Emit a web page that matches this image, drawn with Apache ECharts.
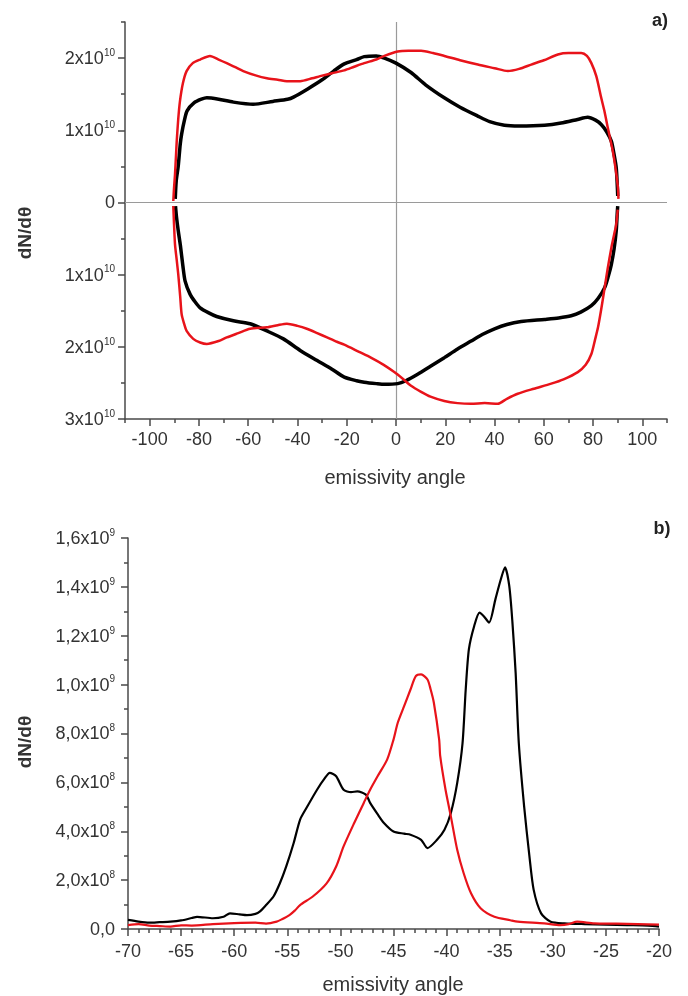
<!DOCTYPE html>
<html>
<head>
<meta charset="utf-8">
<script src="https://cdn.jsdelivr.net/npm/echarts@6/dist/echarts.min.js"></script>
<style>
  html, body { margin: 0; padding: 0; background: #fff; }
  #chart { width: 688px; height: 996px; }
</style>
</head>
<body>
<div id="chart"></div>
<script>
// panel a) values in units of 1e10, [angle, dN/dθ]; lower branches are negative
const blackUpperA = [
  [-89.6, 0.05], [-89.2, 0.3], [-88.4, 0.5], [-87.6, 0.8], [-87, 0.95], [-85.8, 1.15], [-84.8, 1.27],
  [-82, 1.38], [-79, 1.43], [-76.8, 1.45], [-72, 1.43], [-66, 1.39], [-58, 1.36], [-50, 1.4],
  [-44, 1.43], [-41.6, 1.46], [-36, 1.57], [-30, 1.7], [-25.3, 1.82], [-21, 1.92], [-16, 1.98],
  [-12.9, 2.02], [-8, 2.03], [-4.7, 2.0], [0, 1.93], [6.1, 1.8], [12, 1.63], [19.6, 1.45],
  [26, 1.32], [33, 1.2], [38, 1.12], [44, 1.07], [50, 1.06], [60.3, 1.07], [67, 1.1],
  [73.7, 1.15], [77.8, 1.18], [81, 1.14], [83.3, 1.08], [85.5, 0.98], [87.4, 0.85], [88.6, 0.65],
  [89.4, 0.48], [89.8, 0.25], [90, 0.09]
];
const redUpperA = [
  [-90.4, 0.02], [-90.1, 0.2], [-89.7, 0.39], [-89.3, 0.65], [-89, 0.85], [-88.4, 1.15], [-87.7, 1.4],
  [-86.5, 1.65], [-85, 1.82], [-82.5, 1.93], [-79.5, 1.98], [-75.5, 2.03], [-72, 1.98], [-68.7, 1.93],
  [-65, 1.87], [-62, 1.82], [-57, 1.76], [-52.4, 1.72], [-48, 1.7], [-44.3, 1.68], [-38.9, 1.68],
  [-34, 1.72], [-30.8, 1.75], [-26, 1.79], [-21, 1.83], [-17, 1.88], [-12.9, 1.93], [-8, 1.98],
  [-4.7, 2.03], [0.7, 2.09], [5, 2.1], [10.2, 2.1], [15, 2.07], [19.6, 2.03], [26, 1.97],
  [33.2, 1.91], [40, 1.86], [45.4, 1.82], [50, 1.85], [54.9, 1.91], [60, 1.97], [65.7, 2.05],
  [70, 2.07], [75.2, 2.07], [77.5, 2.03], [79.3, 1.93], [81.3, 1.75], [83.3, 1.45], [84.7, 1.25],
  [86, 1.03], [88, 0.71], [89.2, 0.45], [90.1, 0.2], [90.3, 0.05]
];
const blackLowerA = [
  [-89.5, -0.05], [-89.1, -0.2], [-88.4, -0.39], [-87.5, -0.6], [-86.5, -0.88], [-85.6, -1.09],
  [-83.6, -1.27], [-81.5, -1.38], [-79.5, -1.46], [-76, -1.53], [-72.8, -1.58], [-66, -1.64],
  [-59.2, -1.68], [-52.4, -1.78], [-45.7, -1.89], [-38.9, -2.05], [-32, -2.19], [-26, -2.31],
  [-21, -2.42], [-16, -2.47], [-12.9, -2.49], [-8, -2.51], [-4.7, -2.52], [0.7, -2.51], [4, -2.47],
  [8.8, -2.38], [14, -2.27], [19.6, -2.15], [25, -2.03], [30.5, -1.92], [35, -1.83], [40, -1.75],
  [45, -1.69], [50.8, -1.65], [60.3, -1.62], [66, -1.6], [71.1, -1.57], [75, -1.52], [79.3, -1.43],
  [82, -1.33], [84.7, -1.18], [86.2, -1.02], [87.4, -0.86], [88.5, -0.65], [89.4, -0.39],
  [89.8, -0.15], [90, -0.05]
];
const redLowerA = [
  [-90.4, -0.05], [-90.1, -0.3], [-89.7, -0.58], [-89, -0.8], [-88.4, -0.99], [-87.6, -1.3],
  [-87, -1.55], [-86, -1.68], [-85, -1.78], [-82.3, -1.89], [-79.5, -1.94], [-76.8, -1.96],
  [-72, -1.92], [-68.7, -1.87], [-64, -1.81], [-59.2, -1.75], [-52.4, -1.73], [-48, -1.7],
  [-44.3, -1.68], [-40, -1.71], [-36.2, -1.75], [-32, -1.81], [-28, -1.87], [-24, -1.93],
  [-21, -1.97], [-15, -2.07], [-10.2, -2.15], [-5, -2.25], [-0.7, -2.35], [3, -2.45], [6.1, -2.54],
  [10, -2.62], [14, -2.69], [19.6, -2.75], [25, -2.78], [30.5, -2.79], [36, -2.78], [41.3, -2.79],
  [45, -2.72], [49.4, -2.65], [56, -2.58], [63, -2.51], [68, -2.45], [73.8, -2.35], [77, -2.25],
  [79.3, -2.1], [80.8, -1.9], [82, -1.73], [83.3, -1.48], [84.7, -1.18], [86, -0.9], [87.4, -0.63],
  [88.5, -0.45], [89.4, -0.3], [90, -0.1]
];

// panel b) values in units of 1e8
const blackB = [
  [-70, 0.37], [-69, 0.3], [-68, 0.26], [-67, 0.28], [-66, 0.3], [-65, 0.35], [-64, 0.45],
  [-63.5, 0.5], [-62, 0.44], [-61, 0.5], [-60.4, 0.64], [-59.5, 0.6], [-58.8, 0.57], [-58, 0.62],
  [-57.6, 0.71], [-57, 0.98], [-56.3, 1.33], [-55.7, 1.87], [-55.1, 2.56], [-54.4, 3.52],
  [-53.8, 4.47], [-53.2, 4.95], [-52.2, 5.7], [-51.5, 6.15], [-51, 6.39], [-50.4, 6.25],
  [-49.7, 5.7], [-49, 5.6], [-48.4, 5.63], [-47.6, 5.5], [-47.2, 5.16], [-46.5, 4.7], [-45.9, 4.34],
  [-45, 3.99], [-44, 3.9], [-43.4, 3.86], [-42.4, 3.65], [-41.8, 3.31], [-40.9, 3.65], [-40.2, 4.06],
  [-39.6, 4.75], [-39, 5.98], [-38.5, 7.6], [-38.2, 9.8], [-37.9, 11.45], [-37.4, 12.4],
  [-36.9, 12.95], [-36.5, 12.8], [-36, 12.54], [-35.4, 13.5], [-34.9, 14.3], [-34.5, 14.8],
  [-34.1, 14.04], [-33.8, 12.54], [-33.5, 10.49], [-33.2, 7.6], [-32.7, 5.02], [-32.2, 2.97],
  [-31.8, 1.6], [-31.1, 0.64], [-30.2, 0.3], [-28.9, 0.23], [-27, 0.2], [-25, 0.18], [-23, 0.16],
  [-21, 0.14], [-20, 0.1]
];
const redB = [
  [-70, 0.16], [-69, 0.2], [-68, 0.14], [-67, 0.12], [-66, 0.1], [-65, 0.15], [-64, 0.14],
  [-62, 0.2], [-60, 0.24], [-58, 0.26], [-57, 0.22], [-56, 0.3], [-55.5, 0.4], [-54.8, 0.57],
  [-54.3, 0.75], [-53.8, 0.98], [-52.6, 1.33], [-51.3, 1.87], [-50.4, 2.56], [-49.7, 3.38],
  [-48.7, 4.34], [-47.8, 5.16], [-47.2, 5.7], [-46.5, 6.25], [-45.6, 6.93], [-45, 7.75],
  [-44.6, 8.44], [-44, 9.12], [-43.4, 9.8], [-42.9, 10.35], [-42.4, 10.42], [-41.8, 10.21],
  [-41.5, 9.8], [-41.2, 9.26], [-40.7, 7.75], [-40.6, 7.07], [-40.1, 5.7], [-39.6, 4.61],
  [-39, 3.24], [-38.4, 2.29], [-37.7, 1.46], [-36.8, 0.85], [-35.5, 0.5], [-34, 0.36], [-33.3, 0.3],
  [-30.8, 0.23], [-29.3, 0.16], [-28.5, 0.2], [-27.7, 0.3], [-26.1, 0.23], [-24, 0.22], [-22, 0.2],
  [-20, 0.18]
];

// tick positions that carry labels
const xMajorA = [-100, -80, -60, -40, -20, 0, 20, 40, 60, 80, 100];
const yMajorA = [-3, -2, -1, 0, 1, 2];

const FONT = '"Liberation Sans", Arial, sans-serif';
const AXIS_COLOR = '#4a4a4a';
const TEXT_COLOR = '#333';
const RED = '#e8131a';

const richLabel = {
  n: { fontSize: 18, fontFamily: FONT, color: TEXT_COLOR, lineHeight: 20, verticalAlign: 'bottom' },
  s: { fontSize: 10, fontFamily: FONT, color: TEXT_COLOR, lineHeight: 10, verticalAlign: 'top' }
};

function labelA(v) {
  if (v === 0) return '{n|0}';
  return '{n|' + Math.abs(v) + 'x10}{s|10}';
}
function labelB(v) {
  if (v === 0) return '{n|0,0}';
  if (v < 10) return '{n|' + v.toFixed(1).replace('.', ',') + 'x10}{s|8}';
  return '{n|' + (v / 10).toFixed(1).replace('.', ',') + 'x10}{s|9}';
}

const axisLineStyle = { color: AXIS_COLOR, width: 1.5 };

const chart = echarts.init(document.getElementById('chart'), null, { renderer: 'canvas' });

const lineSeries = (data, color, width, xi, yi) => ({
  type: 'line',
  data: data,
  xAxisIndex: xi,
  yAxisIndex: yi,
  showSymbol: false,
  smooth: 0.25,
  lineStyle: { color: color, width: width },
  itemStyle: { color: color },
  z: 3
});

const option = {
  animation: false,
  backgroundColor: '#fff',
  textStyle: { fontFamily: FONT },
  grid: [
    { left: 125, right: 21, top: 22, bottom: 577 },
    { left: 128, right: 29, top: 538, bottom: 67 }
  ],
  xAxis: [
    {
      gridIndex: 0, type: 'value', min: -110, max: 110, interval: 10, position: 'bottom',
      axisLine: { show: true, onZero: false, lineStyle: axisLineStyle },
      axisTick: { show: true, length: 4, lineStyle: axisLineStyle },
      axisLabel: { show: false },
      splitLine: { show: false }
    },
    {
      gridIndex: 0, type: 'value', min: -110, max: 110, position: 'bottom',
      axisLine: { show: false, onZero: false },
      axisTick: { show: true, length: 7, customValues: xMajorA, lineStyle: axisLineStyle },
      axisLabel: {
        customValues: xMajorA, margin: 12, fontSize: 18, color: TEXT_COLOR, fontFamily: FONT
      },
      splitLine: { show: false }
    },
    {
      gridIndex: 1, type: 'value', min: -70, max: -20, interval: 5, position: 'bottom',
      axisLine: { show: true, onZero: false, lineStyle: axisLineStyle },
      axisTick: { show: true, length: 7, lineStyle: axisLineStyle },
      minorTick: { show: true, splitNumber: 5, length: 4, lineStyle: axisLineStyle },
      axisLabel: { margin: 14, fontSize: 18, color: TEXT_COLOR, fontFamily: FONT },
      splitLine: { show: false }
    }
  ],
  yAxis: [
    {
      gridIndex: 0, type: 'value', min: -3, max: 2.5, interval: 0.5, position: 'left',
      axisLine: { show: true, onZero: false, lineStyle: axisLineStyle },
      axisTick: { show: true, length: 4, lineStyle: axisLineStyle },
      axisLabel: { show: false },
      splitLine: { show: false }
    },
    {
      gridIndex: 0, type: 'value', min: -3, max: 2.5, position: 'left',
      axisLine: { show: false, onZero: false },
      axisTick: { show: true, length: 7, customValues: yMajorA, lineStyle: axisLineStyle },
      axisLabel: { customValues: yMajorA, margin: 10, formatter: labelA, rich: richLabel },
      splitLine: { show: false }
    },
    {
      gridIndex: 1, type: 'value', min: 0, max: 16, interval: 2, position: 'left',
      axisLine: { show: true, onZero: false, lineStyle: axisLineStyle },
      axisTick: { show: true, length: 7, lineStyle: axisLineStyle },
      minorTick: { show: true, splitNumber: 2, length: 4, lineStyle: axisLineStyle },
      axisLabel: { margin: 13, formatter: labelB, rich: richLabel },
      splitLine: { show: false }
    }
  ],
  series: [
    Object.assign(lineSeries(blackUpperA, '#000', 3.5, 0, 0), {
      markLine: {
        silent: true,
        symbol: 'none',
        label: { show: false },
        lineStyle: { color: '#9a9a9a', width: 1.2, type: 'solid' },
        data: [{ xAxis: 0 }, { yAxis: 0 }],
        z: 1
      }
    }),
    lineSeries(blackLowerA, '#000', 3.5, 0, 0),
    lineSeries(redUpperA, RED, 2.5, 0, 0),
    lineSeries(redLowerA, RED, 2.5, 0, 0),
    lineSeries(blackB, '#000', 2.2, 2, 2),
    lineSeries(redB, RED, 2.2, 2, 2)
  ],
  graphic: [
    { type: 'text', x: 660, y: 21, style: { text: 'a)', font: 'bold 18px ' + FONT, fill: '#222', align: 'center', verticalAlign: 'middle' } },
    { type: 'text', x: 662, y: 529, style: { text: 'b)', font: 'bold 18px ' + FONT, fill: '#222', align: 'center', verticalAlign: 'middle' } },
    { type: 'text', x: 26, y: 233, rotation: Math.PI / 2, style: { text: 'dN/dθ', font: 'bold 19px ' + FONT, fill: '#333', align: 'center', verticalAlign: 'middle' } },
    { type: 'text', x: 26, y: 742, rotation: Math.PI / 2, style: { text: 'dN/dθ', font: 'bold 19px ' + FONT, fill: '#333', align: 'center', verticalAlign: 'middle' } },
    { type: 'text', x: 395, y: 478, style: { text: 'emissivity angle', font: '20px ' + FONT, fill: '#333', align: 'center', verticalAlign: 'middle' } },
    { type: 'text', x: 393, y: 985, style: { text: 'emissivity angle', font: '20px ' + FONT, fill: '#333', align: 'center', verticalAlign: 'middle' } }
  ]
};

chart.setOption(option);
</script>
</body>
</html>
